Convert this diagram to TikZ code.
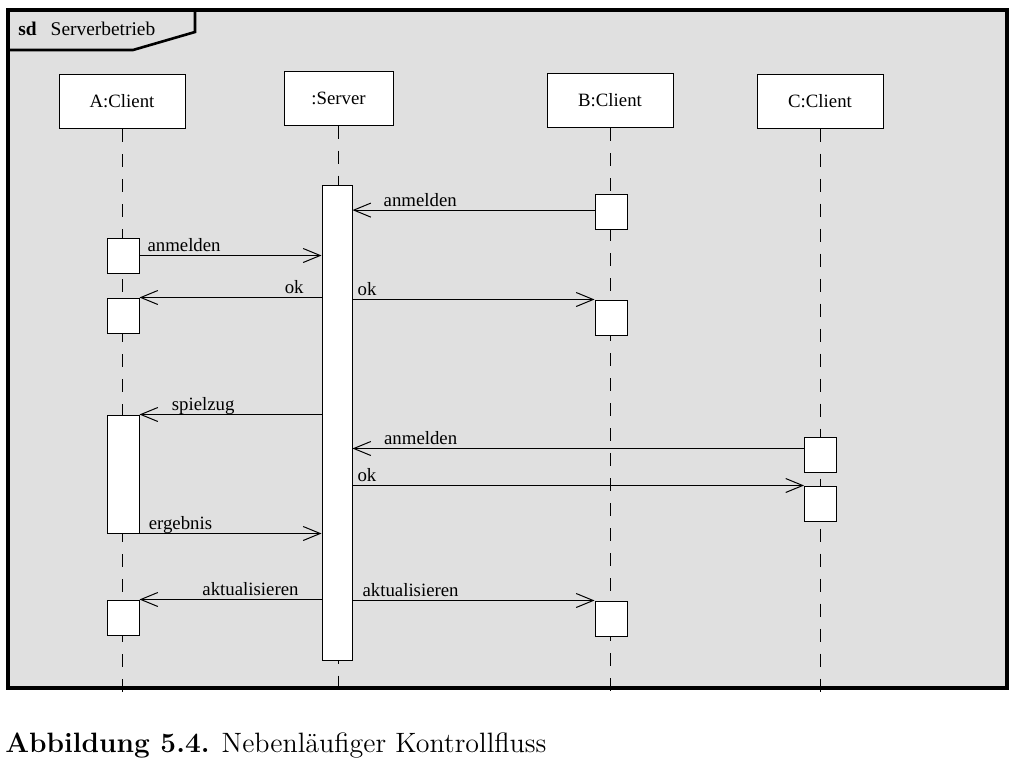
\documentclass[tikz,border=0pt]{standalone}
\usepackage{fontspec}
\newfontfamily\umlfont{Liberation Serif}
\usepackage{tikz}
\usetikzlibrary{positioning,calc,arrows.meta}
\usepackage{xcolor}
\definecolor{sdgray}{RGB}{224,224,224}

\begin{document}
\begin{tikzpicture}[x=0.5pt,y=-0.5pt,
  head/.style={draw,line width=0.5pt,fill=white,minimum width=63pt,minimum height=27pt,inner sep=0pt,font=\umlfont\fontsize{9.4}{11}\selectfont},
  act/.style={draw,line width=0.5pt,fill=white,minimum width=16pt,minimum height=17.5pt,inner sep=0pt},
  life/.style={line width=0.5pt,dash pattern=on 6.5pt off 6pt},
  msg/.style={line width=0.5pt,-{Straight Barb[length=8.5pt,width=7pt,line width=0.5pt]}},
  lbl/.style={font=\umlfont\fontsize{9.4}{11}\selectfont,inner sep=0pt,anchor=base,yshift=2pt}]
\useasboundingbox (0,0) rectangle (1014,777);
\draw[line width=2pt,fill=sdgray] (8,10) rectangle (1007,688);
\draw[line width=1.3pt] (8,50) -- (133,50) -- (195,32) -- (195,10);
\node[anchor=base west,inner sep=0pt,font=\umlfont\fontsize{9.7}{11}\selectfont](sd) at (18,35) {\textbf{sd}\hspace{7pt}Serverbetrieb};
\node[head](A) at (122,101.5) {A:Client};
\node[head,minimum width=54.5pt](S) at (338.5,98) {:Server};
\node[head](B) at (610,100.5) {B:Client};
\node[head](C) at (820,101) {C:Client};
\coordinate (A_end) at (122,700);
\coordinate (S_end) at (338.5,693);
\coordinate (B_end) at (610,699);
\coordinate (C_end) at (820,702);
\draw[life] (A) -- (A_end);
\draw[life] (S) -- (S_end);
\draw[life] (B) -- (B_end);
\draw[life] (C) -- (C_end);
\node[act,minimum width=15pt,minimum height=237.5pt](sa) at (337,422.5) {};
\node[act](a1) at (123,255.5) {};
\node[act](a2) at (123,315.5) {};
\node[act,minimum height=59pt](a3) at (123,474) {};
\node[act](a4) at (123,617.5) {};
\node[act](b1) at (611,211.5) {};
\node[act](b2) at (611,317.5) {};
\node[act](b3) at (611,618.5) {};
\node[act](c1) at (820.5,454.5) {};
\node[act](c2) at (820.5,503.5) {};
\draw[msg] ([yshift=0.7pt]b1.west) -- ([yshift=0.7pt]b1.west -| sa.east) node[lbl,pos=0.72] {anmelden};
\draw[msg] (a1.east) -- (a1.east -| sa.west) node[lbl,pos=0.245] {anmelden};
\draw[msg] (sa.west |- a2.north east) -- (a2.north east) node[lbl,pos=0.15] {ok};
\draw[msg] (sa.east |- b2.north west) -- (b2.north west) node[lbl,pos=0.06] {ok};
\draw[msg] (sa.west |- a3.north east) -- (a3.north east) node[lbl,pos=0.65] {spielzug};
\draw[msg] ([yshift=3pt]c1.west) -- ([yshift=3pt]c1.west -| sa.east) node[lbl,pos=0.849] {anmelden};
\draw[msg] (sa.east |- c2.north west) -- (c2.north west) node[lbl,pos=0.032] {ok};
\draw[msg] (a3.south east) -- (a3.south east -| sa.west) node[lbl,pos=0.225] {ergebnis};
\draw[msg] (sa.west |- a4.north east) -- (a4.north east) node[lbl,pos=0.39] {aktualisieren};
\draw[msg] (sa.east |- b3.north west) -- (b3.north west) node[lbl,pos=0.24] {aktualisieren};
\node[anchor=base west,inner sep=0pt,font=\fontsize{14}{16}\selectfont](cap) at (5,752) {\textbf{Abbildung 5.4.} Nebenläufiger Kontrollfluss};
\end{tikzpicture}
\end{document}
